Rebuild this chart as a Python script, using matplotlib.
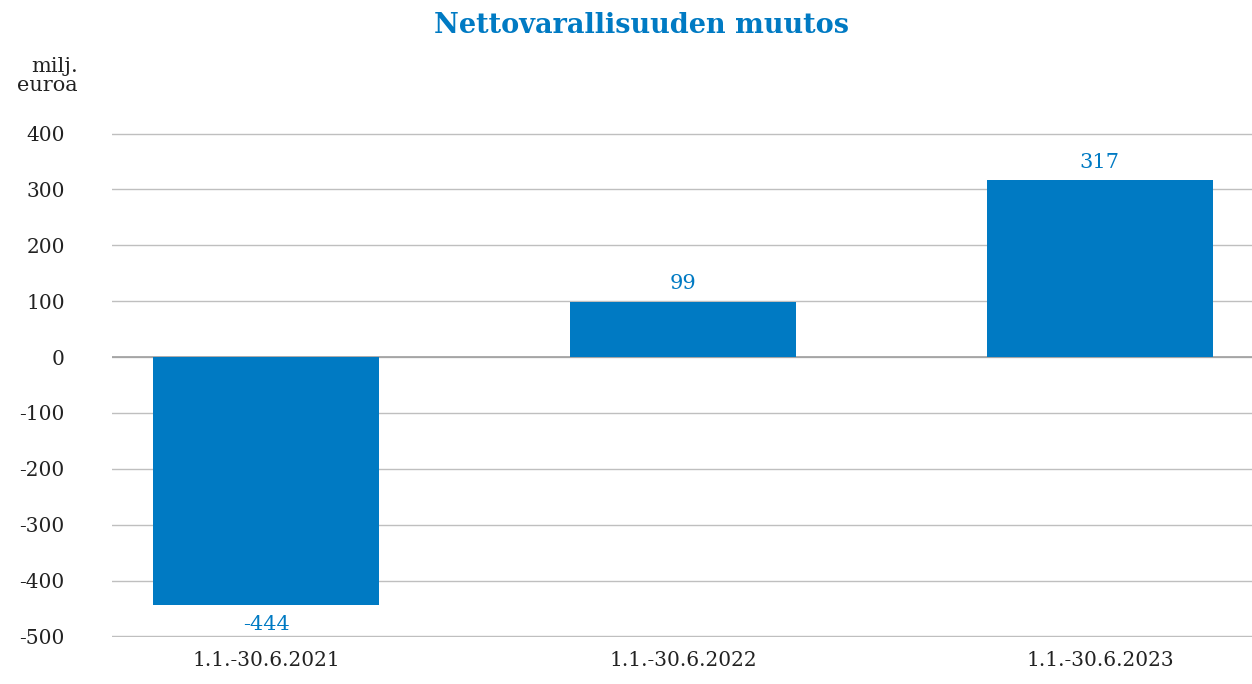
import matplotlib
matplotlib.use("Agg")
import matplotlib.pyplot as plt

# data
periods = ["1.1.-30.6.2021", "1.1.-30.6.2022", "1.1.-30.6.2023"]
values = [-444, 99, 317]
yticks = [-500, -400, -300, -200, -100, 0, 100, 200, 300, 400]

blue = "#007ac3"
plt.rcParams["font.family"] = ["DejaVu Serif"]

fig = plt.figure(figsize=(12.52, 6.84), dpi=100)
ax = fig.add_axes([0.0895, 0.0687, 0.9105, 0.7369])

x = list(range(len(periods)))
ax.bar(x, values, width=0.542, color=blue, zorder=3)

# value labels
for xi, v in zip(x, values):
    if v >= 0:
        ax.annotate(str(v), (xi, v), xytext=(0, 6), textcoords="offset points",
                    ha="center", va="bottom", color=blue, fontsize=15)
    else:
        ax.annotate(str(v), (xi, v), xytext=(0, -7), textcoords="offset points",
                    ha="center", va="top", color=blue, fontsize=15)

ax.set_ylim(-501, 401)
ax.set_xlim(-0.37, 2.365)
ax.set_yticks(yticks)
ax.set_yticklabels([str(t) for t in yticks])
ax.set_xticks(x)
ax.set_xticklabels(periods)
ax.grid(axis="y", color="#bfbfbf", linewidth=1, zorder=0)
ax.axhline(0, color="#a0a0a0", linewidth=1.2, zorder=2)
for s in ax.spines.values():
    s.set_visible(False)
ax.tick_params(axis="both", length=0, labelsize=14.5, colors="#222222")
ax.tick_params(axis="y", pad=34)
ax.tick_params(axis="x", pad=10)

fig.text(0.512, 0.962, "Nettovarallisuuden muutos", ha="center", va="center",
         color=blue, fontsize=19.5, fontweight="bold")
fig.text(0.062, 0.889, "milj.\neuroa", ha="right", va="center",
         fontsize=15, color="#222222", linespacing=0.95)

fig.savefig("out.png", dpi=100)
